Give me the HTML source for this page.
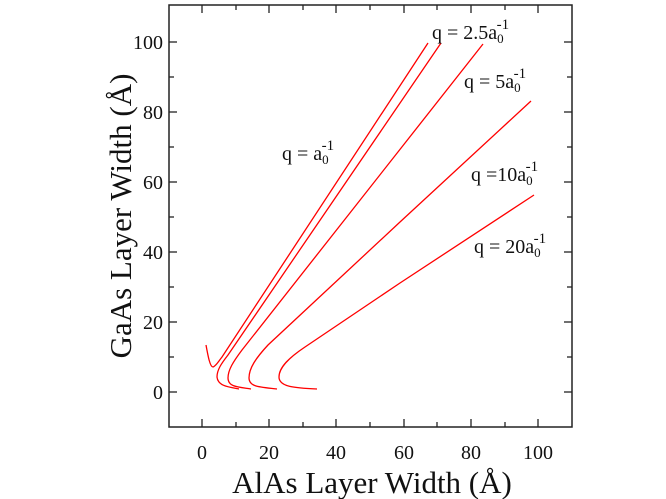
<!DOCTYPE html>
<html><head><meta charset="utf-8"><style>body{margin:0;background:#fff}svg{display:block}</style></head><body>
<svg width="666" height="499" viewBox="0 0 666 499" xmlns="http://www.w3.org/2000/svg" font-family="Liberation Serif, serif">
<rect x="169" y="5" width="403" height="422" fill="none" stroke="#222" stroke-width="1.5"/>
<g stroke="#222" stroke-width="1.3">
<line x1="202" y1="427" x2="202" y2="419"/><line x1="236" y1="427" x2="236" y2="422"/>
<line x1="269" y1="427" x2="269" y2="419"/><line x1="303" y1="427" x2="303" y2="422"/>
<line x1="336" y1="427" x2="336" y2="419"/><line x1="370" y1="427" x2="370" y2="422"/>
<line x1="404" y1="427" x2="404" y2="419"/><line x1="437" y1="427" x2="437" y2="422"/>
<line x1="471" y1="427" x2="471" y2="419"/><line x1="505" y1="427" x2="505" y2="422"/>
<line x1="538" y1="427" x2="538" y2="419"/>
<line x1="202" y1="5" x2="202" y2="13"/><line x1="236" y1="5" x2="236" y2="10"/>
<line x1="269" y1="5" x2="269" y2="13"/><line x1="303" y1="5" x2="303" y2="10"/>
<line x1="336" y1="5" x2="336" y2="13"/><line x1="370" y1="5" x2="370" y2="10"/>
<line x1="404" y1="5" x2="404" y2="13"/><line x1="437" y1="5" x2="437" y2="10"/>
<line x1="471" y1="5" x2="471" y2="13"/><line x1="505" y1="5" x2="505" y2="10"/>
<line x1="538" y1="5" x2="538" y2="13"/>
<line x1="169" y1="392" x2="177" y2="392"/><line x1="169" y1="357" x2="174" y2="357"/>
<line x1="169" y1="322" x2="177" y2="322"/><line x1="169" y1="287" x2="174" y2="287"/>
<line x1="169" y1="252" x2="177" y2="252"/><line x1="169" y1="217" x2="174" y2="217"/>
<line x1="169" y1="182" x2="177" y2="182"/><line x1="169" y1="147" x2="174" y2="147"/>
<line x1="169" y1="112" x2="177" y2="112"/><line x1="169" y1="77" x2="174" y2="77"/>
<line x1="169" y1="42" x2="177" y2="42"/>
<line x1="572" y1="392" x2="564" y2="392"/><line x1="572" y1="357" x2="567" y2="357"/>
<line x1="572" y1="322" x2="564" y2="322"/><line x1="572" y1="287" x2="567" y2="287"/>
<line x1="572" y1="252" x2="564" y2="252"/><line x1="572" y1="217" x2="567" y2="217"/>
<line x1="572" y1="182" x2="564" y2="182"/><line x1="572" y1="147" x2="567" y2="147"/>
<line x1="572" y1="112" x2="564" y2="112"/><line x1="572" y1="77" x2="567" y2="77"/>
<line x1="572" y1="42" x2="564" y2="42"/>
</g>
<g font-size="20" fill="#111" text-anchor="middle">
<text x="202" y="459">0</text><text x="269" y="459">20</text><text x="336" y="459">40</text>
<text x="404" y="459">60</text><text x="471" y="459">80</text><text x="538" y="459">100</text>
</g>
<g font-size="20" fill="#111" text-anchor="end">
<text x="163" y="399">0</text><text x="163" y="329">20</text><text x="163" y="259">40</text>
<text x="163" y="189">60</text><text x="163" y="119">80</text><text x="163" y="49">100</text>
</g>
<text x="372" y="493" font-size="31" text-anchor="middle" fill="#111">AlAs Layer Width (Å)</text>
<text transform="translate(131,216) rotate(-90)" font-size="31" text-anchor="middle" fill="#111">GaAs Layer Width (Å)</text>
<g fill="none" stroke="#f00" stroke-width="1.3">
<path d="M206,345 C208,356 210,367 213,367 C216,366 218,362 222,357 L428,43"/>
<path d="M239,389 C228,387 218,386 217,377 C217,370 221,364 228,355 L441,43"/>
<path d="M251,389 C238,387 228,387 228,378 C228,370 233,362 242,350 L483,44"/>
<path d="M277,389 C260,387 249,387 249,378 C249,368 256,358 268,345 L400,222 L531,101"/>
<path d="M317,389 C295,388 279,387 279,377 C279,367 290,357 305,347 L400,283 L534,195"/>
</g>
<g font-size="20" fill="#111">
<text x="282" y="160">q = a<tspan font-size="13" dy="4">0</tspan><tspan font-size="15" dx="-7" dy="-14">-1</tspan></text>
<text x="432" y="39">q = 2.5a<tspan font-size="13" dy="4">0</tspan><tspan font-size="15" dx="-7" dy="-14">-1</tspan></text>
<text x="464" y="88">q = 5a<tspan font-size="13" dy="4">0</tspan><tspan font-size="15" dx="-7" dy="-14">-1</tspan></text>
<text x="471" y="181">q =10a<tspan font-size="13" dy="4">0</tspan><tspan font-size="15" dx="-7" dy="-14">-1</tspan></text>
<text x="474" y="253">q = 20a<tspan font-size="13" dy="4">0</tspan><tspan font-size="15" dx="-7" dy="-14">-1</tspan></text>
</g>
</svg>
</body></html>
